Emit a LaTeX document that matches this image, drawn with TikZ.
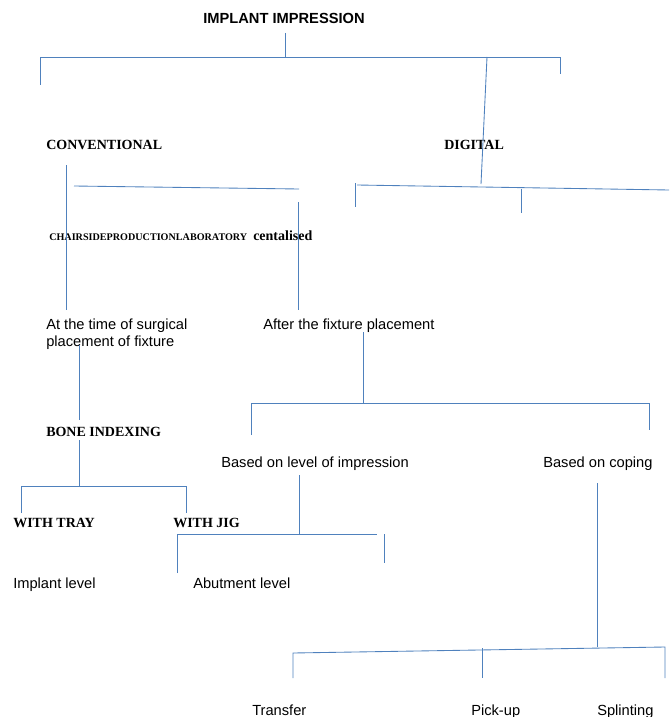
\documentclass[tikz,border=0pt]{standalone}
\usepackage{fontspec}
\setmainfont{Liberation Serif}
\setsansfont{Liberation Sans}
\definecolor{wline}{RGB}{79,129,189}
\begin{document}
\begin{tikzpicture}[x=0.75pt,y=-0.75pt,
  ln/.style={draw=wline, line width=0.65pt},
  sanslbl/.style={font=\sffamily\fontsize{11}{12.75}\selectfont, inner sep=0pt, anchor=base west},
  serlbl/.style={font=\bfseries\fontsize{10.5}{12}\selectfont, inner sep=0pt, anchor=base west},
]
\useasboundingbox (0,0) rectangle (669,717);
% texts
\node[font=\sffamily\bfseries\fontsize{11}{13}\selectfont, inner sep=0pt, anchor=base] (root) at (284,24) {IMPLANT IMPRESSION};
\node[serlbl] (conv) at (46,149) {CONVENTIONAL};
\node[serlbl] (dig) at (444,149) {DIGITAL};
\node[serlbl, font=\bfseries\fontsize{7.6}{8}\selectfont] (chair) at (49,240) {CHAIRSIDEPRODUCTIONLABORATORY};
\node[serlbl] (cent) at (253,240) {centalised};
\node[sanslbl] (surgA) at (46,329) {At the time of surgical};
\node[sanslbl] (surgB) at (46,346) {placement of fixture};
\node[sanslbl] (after) at (263,329) {After the fixture placement};
\node[serlbl] (bone) at (46,436) {BONE INDEXING};
\node[serlbl] (tray) at (13,527) {WITH TRAY};
\node[serlbl] (jig) at (173,527) {WITH JIG};
\node[sanslbl] (impl) at (13,588) {Implant level};
\node[sanslbl] (abut) at (193,588) {Abutment level};
\node[sanslbl] (level) at (221,467) {Based on level of impression};
\node[sanslbl] (coping) at (543,467) {Based on coping};
\node[sanslbl] (transfer) at (252,715) {Transfer};
\node[sanslbl] (pick) at (471,715) {Pick-up};
\node[sanslbl] (splint) at (597,715) {Splinting};
% coordinates
\coordinate (t1) at (285,33); \coordinate (t2) at (285,57);
\coordinate (tl) at (40,57); \coordinate (tr) at (560,57);
\coordinate (tld) at (40,85); \coordinate (trd) at (560,74);
\coordinate (ts1) at (487,57); \coordinate (ts2) at (481,184);
\coordinate (c1) at (66,165); \coordinate (c2) at (66,310);
\coordinate (c3) at (74,186); \coordinate (c4) at (299,189);
\coordinate (c5) at (298,202); \coordinate (c6) at (298,310);
\coordinate (d1) at (357,185); \coordinate (d2) at (669,190);
\coordinate (d3) at (355,183); \coordinate (d4) at (355,207);
\coordinate (d5) at (521,189); \coordinate (d6) at (521,213);
\coordinate (s1) at (79,345); \coordinate (s2) at (79,420);
\coordinate (s3) at (79,440); \coordinate (s4) at (79,486);
\coordinate (s5) at (21,486); \coordinate (s6) at (186,486);
\coordinate (s7) at (21,513); \coordinate (s8) at (186,513);
\coordinate (a1) at (363,332); \coordinate (a2) at (363,403);
\coordinate (a3) at (251,403); \coordinate (a4) at (649,403);
\coordinate (a5) at (251,435); \coordinate (a6) at (649,430);
\coordinate (l1) at (299,475); \coordinate (l2) at (299,534);
\coordinate (l3) at (177,534); \coordinate (l4) at (377,534);
\coordinate (l5) at (177,573); \coordinate (l6) at (384,534);
\coordinate (l7) at (384,563);
\coordinate (p1) at (597,483); \coordinate (p2) at (597,647);
\coordinate (p3) at (293,653); \coordinate (p4) at (665,647);
\coordinate (p5) at (293,678); \coordinate (p6) at (482,648);
\coordinate (p7) at (482,678); \coordinate (p8) at (665,678);
% lines
\draw[ln] (t1) -- (t2);
\draw[ln] (tld) -- (tl) -- (tr) -- (trd);
\draw[ln] (ts1) -- (ts2);
\draw[ln] (c1) -- (c2);
\draw[ln] (c3) -- (c4);
\draw[ln] (c5) -- (c6);
\draw[ln] (d1) -- (d2);
\draw[ln] (d3) -- (d4);
\draw[ln] (d5) -- (d6);
\draw[ln] (s1) -- (s2);
\draw[ln] (s3) -- (s4);
\draw[ln] (s7) -- (s5) -- (s6) -- (s8);
\draw[ln] (a1) -- (a2);
\draw[ln] (a5) -- (a3) -- (a4) -- (a6);
\draw[ln] (l1) -- (l2);
\draw[ln] (l5) -- (l3) -- (l4);
\draw[ln] (l6) -- (l7);
\draw[ln] (p1) -- (p2);
\draw[ln] (p5) -- (p3) -- (p4) -- (p8);
\draw[ln] (p6) -- (p7);
\end{tikzpicture}
\end{document}
